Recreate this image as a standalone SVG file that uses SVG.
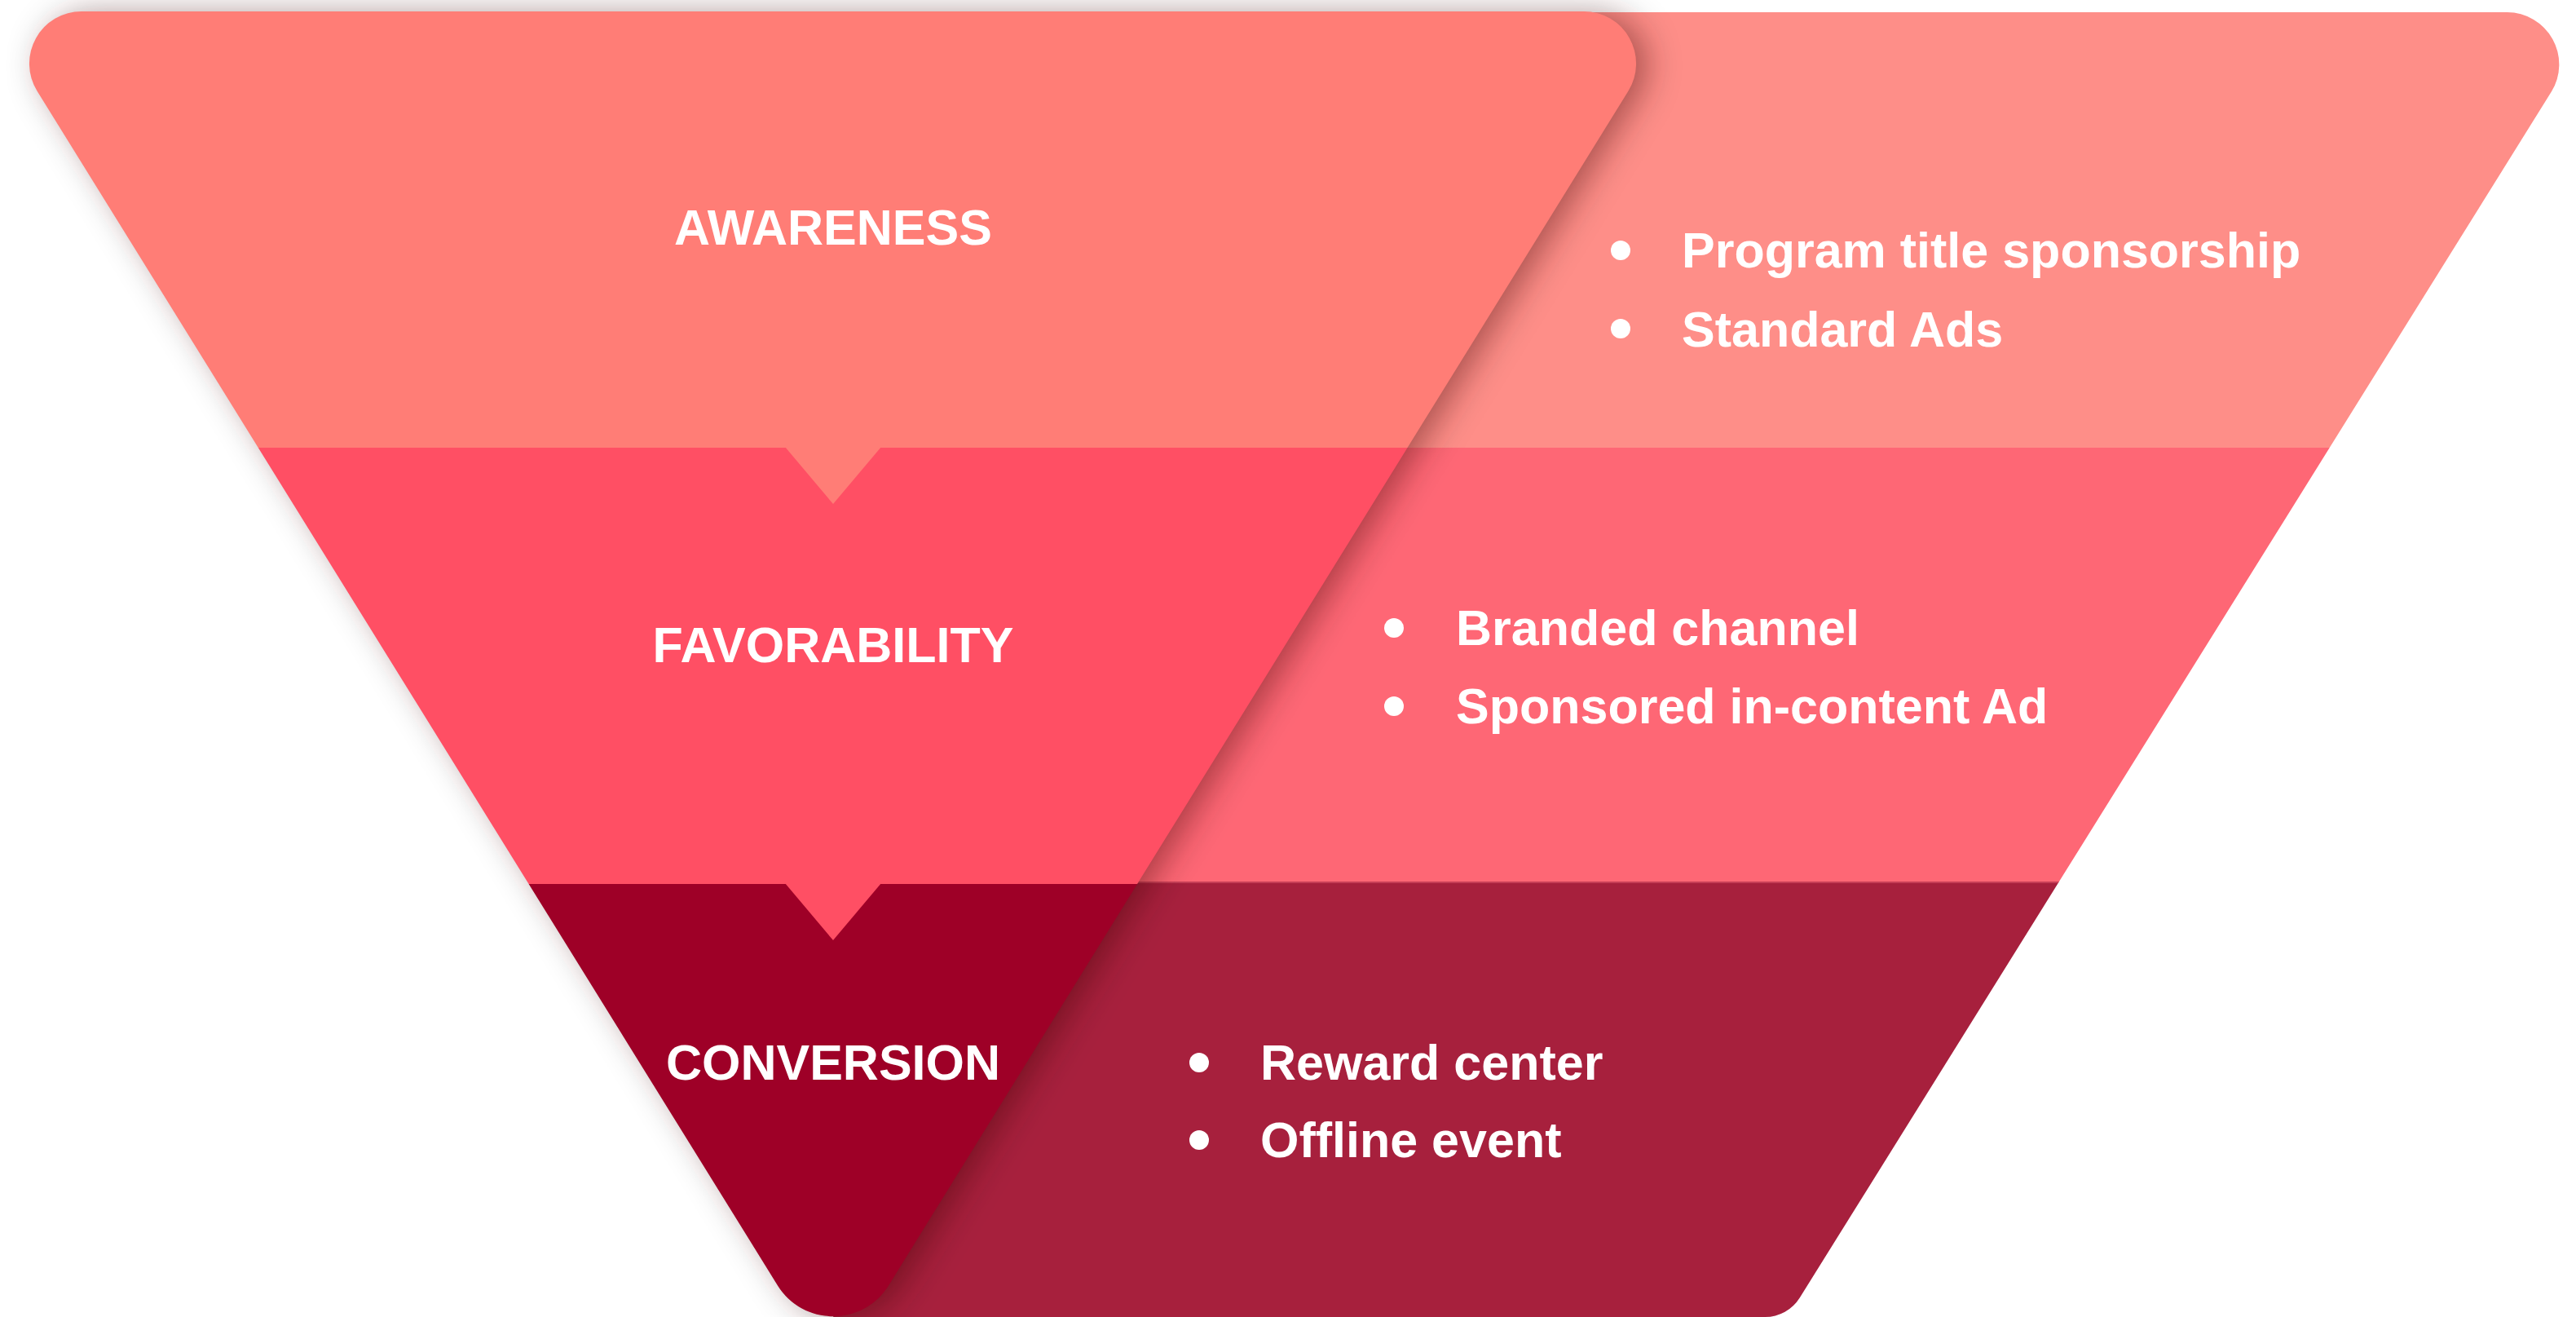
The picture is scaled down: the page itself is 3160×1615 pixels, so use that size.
<svg xmlns="http://www.w3.org/2000/svg" width="3160" height="1615" viewBox="0 0 3160 1615">
  <style>
    .label { font-family: "Liberation Sans", Arial, Helvetica, sans-serif; font-weight: bold; font-size: 61px; fill: #ffffff; text-anchor: middle; }
    .item { font-family: "Liberation Sans", Arial, Helvetica, sans-serif; font-weight: bold; font-size: 61px; fill: #ffffff; }
    .dot { fill: #ffffff; }
  </style>
  <defs>
    <clipPath id="clipLeft">
      <path id="leftShape" d="M100,14 L1943,14 A64,64 0 0 1 1997.4,111.8 L1090,1576.4 A80,80 0 0 1 954,1576.4 L45.6,111.8 A64,64 0 0 1 100,14 Z"/>
    </clipPath>
    <clipPath id="clipRight">
      <path d="M1700,15 L3075.6,15 A64,64 0 0 1 3129.8,112.6 L2207.7,1591.5 A50,50 0 0 1 2165.3,1615 L1022,1615 Z"/>
    </clipPath>
    <filter id="shadow" x="-10%" y="-10%" width="120%" height="120%">
      <feGaussianBlur in="SourceAlpha" stdDeviation="20"/>
      <feOffset dx="14" dy="2" result="b"/>
      <feFlood flood-color="#3a0010" flood-opacity="0.42"/>
      <feComposite in2="b" operator="in"/>
    </filter>
  </defs>

  <rect width="3160" height="1615" fill="#ffffff"/>

  <g id="funnel-right" clip-path="url(#clipRight)">
    <rect x="1000" y="0" width="2160" height="549" fill="#fe8e88"/>
    <rect x="1000" y="549" width="2160" height="534" fill="#fe6775"/>
    <rect x="1000" y="1083" width="2160" height="540" fill="#a7203d"/>
    <rect x="1000" y="1081" width="2160" height="2" fill="#b8344f" opacity="0.8"/>
  </g>

  <path id="funnel-left-shadow" d="M100,14 L1943,14 A64,64 0 0 1 1997.4,111.8 L1090,1576.4 A80,80 0 0 1 954,1576.4 L45.6,111.8 A64,64 0 0 1 100,14 Z" fill="#000" filter="url(#shadow)"/>

  <g id="funnel-left" clip-path="url(#clipLeft)">
    <rect x="0" y="0" width="2100" height="549" fill="#ff7d76"/>
    <rect x="0" y="549" width="2100" height="535" fill="#ff4f64"/>
    <rect x="0" y="1084" width="2100" height="540" fill="#9e0027"/>
  </g>

  <g id="connectors">
    <polygon points="963,548 1081,548 1022,618" fill="#ff7d76"/>
    <polygon points="963,1083 1081,1083 1022,1153" fill="#ff4f64"/>
  </g>

  <g id="node-awareness">
    <text class="label" x="1022" y="300">AWARENESS</text>
    <circle class="dot" cx="1988" cy="307" r="12"/>
    <text class="item" x="2063" y="328">Program title sponsorship</text>
    <circle class="dot" cx="1988" cy="403" r="12"/>
    <text class="item" x="2063" y="425">Standard Ads</text>
  </g>

  <g id="node-favorability">
    <text class="label" x="1022" y="812">FAVORABILITY</text>
    <circle class="dot" cx="1710" cy="770" r="12"/>
    <text class="item" x="1786" y="791">Branded channel</text>
    <circle class="dot" cx="1710" cy="866" r="12"/>
    <text class="item" x="1786" y="887">Sponsored in-content Ad</text>
  </g>

  <g id="node-conversion">
    <text class="label" x="1022" y="1324">CONVERSION</text>
    <circle class="dot" cx="1471" cy="1303" r="12"/>
    <text class="item" x="1546" y="1324">Reward center</text>
    <circle class="dot" cx="1471" cy="1398" r="12"/>
    <text class="item" x="1546" y="1419">Offline event</text>
  </g>
</svg>
